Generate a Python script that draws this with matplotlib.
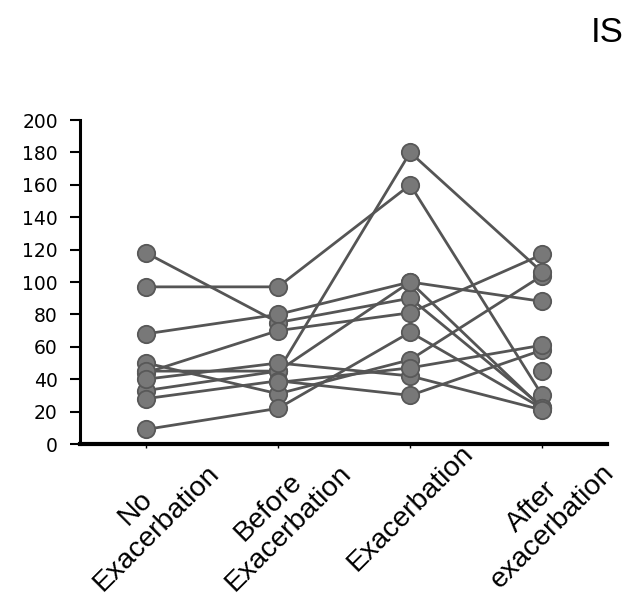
import numpy as np
import matplotlib
matplotlib.use("Agg")
import matplotlib.pyplot as plt

categories = ["No\nExacerbation", "Before\nExacerbation", "Exacerbation", "After\nexacerbation"]
title = "IS"
y_ticks = [0, 20, 40, 60, 80, 100, 120, 140, 160, 180, 200]

nan = np.nan
s1 = [118, 75, 90, 23]
s2 = [97, 97, 160, 30]
s3 = [68, 80, 100, 88]
s4 = [44, 70, 81, 117]
s5 = [50, 31, 52, 104]
s6 = [45, 45, 180, 106]
s7 = [33, 45, 100, 22]
s8 = [28, 39, 30, 58]
s9 = [9, 22, 69, 22]
s10 = [40, 50, 42, 21]
s11 = [nan, 38, 47, 61]
s12 = [nan, nan, nan, 45]
subjects = [s1, s2, s3, s4, s5, s6, s7, s8, s9, s10, s11, s12]

fig = plt.figure(figsize=(6.4, 6.11), dpi=100)
ax = fig.add_axes([80/640, 1-444/611, 527/640, 324/611])

x = np.arange(len(categories))
for s in subjects:
    ax.plot(x, s, color="#555555", lw=2.0, marker="o", ms=12.5,
            mfc="#787878", mec="#585858", mew=1.3, zorder=3)

ax.set_xlim(-0.5, 3.49)
ax.set_ylim(0, 200)
ax.set_yticks(y_ticks)
ax.set_yticklabels([str(v) for v in y_ticks], fontsize=13.5, family="DejaVu Sans")
ax.set_xticks(x)
ax.set_xticklabels(categories, rotation=45, ha="center", va="top",
                   fontsize=20.5, family="Liberation Sans", multialignment="center",
                   linespacing=1.12)
ax.tick_params(axis="y", length=7, width=1.5, pad=9, color="black")
ax.tick_params(axis="x", length=3, width=1, pad=-6, color="black")

for side in ["top", "right"]:
    ax.spines[side].set_visible(False)
ax.spines["left"].set_linewidth(2.2)
ax.spines["bottom"].set_linewidth(3.0)
ax.spines["left"].set_color("black")
ax.spines["bottom"].set_color("black")

fig.text(607/640, 1-33/611, title, fontsize=25, family="Liberation Sans",
         ha="center", va="center")

fig.savefig("out.png", dpi=100)
